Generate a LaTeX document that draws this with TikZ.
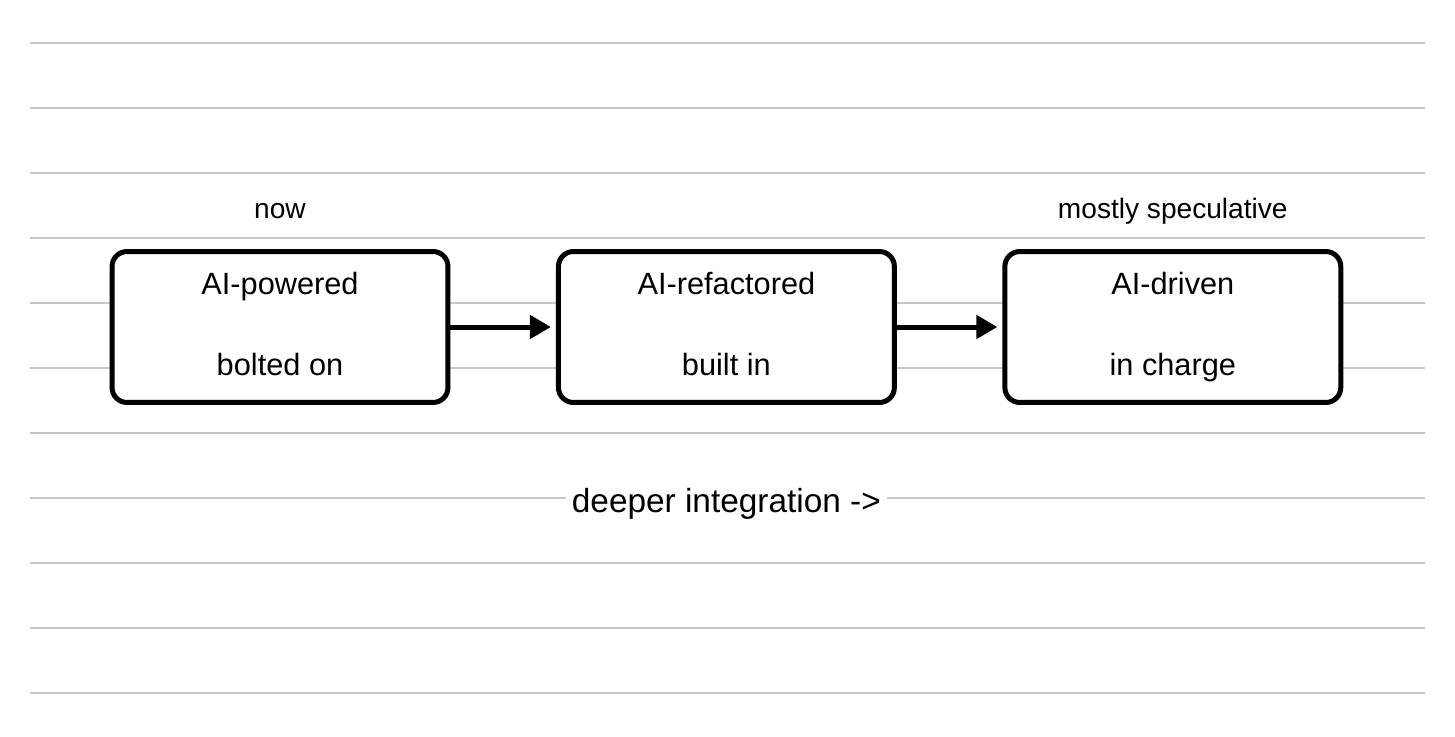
\documentclass[tikz,border=0pt]{standalone}
\usepackage{fontspec}
\setmainfont{Liberation Sans}
\usetikzlibrary{arrows.meta,positioning}

\begin{document}
\begin{tikzpicture}[
    x=0.02cm, y=-0.02cm,
    node distance=2.11cm,
    rule/.style={draw=black!22, line width=0.04cm},
    stage/.style={draw, line width=0.1cm, rounded corners=0.3cm, fill=white, align=center,
        minimum width=6.72cm, minimum height=3.02cm, font=\fontsize{17.5}{46}\selectfont,
        execute at end node={\vphantom{g}}},
    tag/.style={font=\fontsize{16}{19}\selectfont},
    axis/.style={fill=white, font=\fontsize{19}{23}\selectfont},
    flow/.style={-{Triangle[length=0.42cm, width=0.46cm]}, line width=0.1cm, shorten >=0.1cm}
]
\fill[white] (0,0) rectangle (1455,737);
\useasboundingbox (0,0) rectangle (1455,737);
% ruled paper
\foreach \k in {0,...,10}
    \draw[rule] (30,{43+65*\k}) -- (1425,{43+65*\k});
\node[stage] (powered) at (280,327) {AI-powered\\bolted on};
\node[stage, right=of powered] (refactored) {AI-refactored\\built in};
\node[stage, right=of refactored] (driven) {AI-driven\\in charge};
\node[tag, above=0.62cm of powered, anchor=base] (now) {now};
\node[tag, above=0.62cm of driven, anchor=base] (spec) {mostly speculative};
\node[axis, below=2.16cm of refactored, anchor=base] (deeper) {deeper integration ->};
\draw[flow] (powered) -- (refactored);
\draw[flow] (refactored) -- (driven);
\end{tikzpicture}
\end{document}
